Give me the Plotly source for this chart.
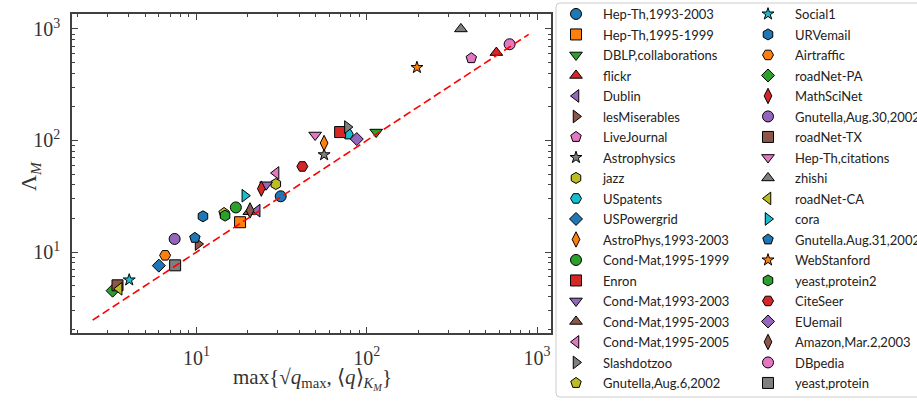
import plotly.graph_objects as go

# Network data sets: predicted scale vs. measured Lambda_M
names = [
    "Hep-Th,1993-2003", "Hep-Th,1995-1999", "DBLP,collaborations", "flickr",
    "Dublin", "lesMiserables", "LiveJournal", "Astrophysics", "jazz",
    "USpatents", "USPowergrid", "AstroPhys,1993-2003", "Cond-Mat,1995-1999",
    "Enron", "Cond-Mat,1993-2003", "Cond-Mat,1995-2003", "Cond-Mat,1995-2005",
    "Slashdotzoo", "Gnutella,Aug.6,2002",
    "Social1", "URVemail", "Airtraffic", "roadNet-PA", "MathSciNet",
    "Gnutella,Aug.30,2002", "roadNet-TX", "Hep-Th,citations", "zhishi",
    "roadNet-CA", "cora", "Gnutella.Aug.31,2002", "WebStanford",
    "yeast,protein2", "CiteSeer", "EUemail", "Amazon,Mar.2,2003", "DBpedia",
    "yeast,protein",
]
x_vals = [
    31.2, 18.0, 113.5, 577, 22.7, 10.2, 411, 56.1, 29.2, 77.3, 6.0, 56.1, 17.0,
    69.7, 25.6, 20.4, 29.3, 76.9, 14.5,
    4.02, 10.9, 6.53, 3.21, 24.0, 7.43, 3.43, 49.7, 357, 3.51, 19.2, 9.77, 197,
    14.7, 41.8, 87.3, 20.6, 690, 7.48,
]
y_vals = [
    31.6, 18.5, 119, 614, 23.5, 11.8, 547, 74.5, 40.7, 114, 7.55, 94.9, 25.1,
    119, 40.1, 23.0, 51.1, 132, 22.4,
    5.62, 20.9, 9.34, 4.5, 37.0, 13.1, 5.03, 112, 1000, 4.68, 32.0, 13.4, 451,
    21.2, 58.5, 103, 23.6, 729, 7.6,
]
# reference line Lambda_M = x
line_x = [2.45, 893]

palette = ["#1f77b4", "#ff7f0e", "#2ca02c", "#d62728", "#9467bd",
           "#8c564b", "#e377c2", "#7f7f7f", "#bcbd22", "#17becf"]
symbols = ["circle", "square", "triangle-down", "triangle-up", "triangle-left",
           "triangle-right", "pentagon", "star", "hexagon", "hexagon2",
           "diamond", "diamond-tall"]
sizes = {"star": 9, "diamond": 10}

fig = go.Figure()
half = (len(names) + 1) // 2
for i, (n, xv, yv) in enumerate(zip(names, x_vals, y_vals)):
    sym = symbols[i % len(symbols)]
    fig.add_trace(go.Scatter(
        x=[xv], y=[yv], mode="markers", name=n, legendgroup=n,
        legend="legend" if i < half else "legend2",
        marker=dict(symbol=sym, color=palette[i % len(palette)],
                    size=sizes.get(sym, 11),
                    line=dict(color="black", width=1)),
    ))

fig.add_trace(go.Scatter(
    x=line_x, y=line_x, mode="lines", showlegend=False,
    line=dict(color="#ff0000", width=1.6, dash="8px,4px"),
))

W, H = 917, 401
L, R, T, B = 72, 366, 14, 68
pw, ph = W - L - R, H - T - B


def px_x(p):
    return (p - L) / pw


def px_y(p):
    return (H - B - p) / ph


minor_vals = [m * 10 ** k for k in range(0, 3) for m in range(2, 10)]
serif = "Liberation Serif"
axis_common = dict(
    type="log", showgrid=False, zeroline=False, showline=True,
    linecolor="#404040", linewidth=1.5, mirror="ticks",
    ticks="inside", ticklen=6, tickwidth=1, tickcolor="#404040",
    tickvals=[10, 100, 1000],
    ticktext=["10<sup>1</sup>", "10<sup>2</sup>", "10<sup>3</sup>"],
    tickfont=dict(family=serif, size=20, color="#333"),
    minor=dict(tickvals=minor_vals, ticks="inside", ticklen=3,
               tickwidth=1, tickcolor="#404040", showgrid=False),
    ticklabelstandoff=6,
)

fig.update_xaxes(range=[0.268, 3.082], **axis_common)
fig.update_yaxes(range=[0.274, 3.134], **axis_common)

title_font = dict(family=serif, size=21, color="#333")
annotations = [
    dict(text="max{√<i>q</i><sub>max</sub>, ⟨<i>q</i>⟩<sub><i>K<sub>M</sub></i></sub>}",
         xref="paper", yref="paper", x=px_x(312), y=px_y(379),
         xanchor="center", yanchor="middle", showarrow=False, font=title_font),
    dict(text="Λ<sub><i>M</i></sub>", textangle=-90,
         xref="paper", yref="paper", x=px_x(30), y=px_y(176),
         xanchor="center", yanchor="middle", showarrow=False,
         font=dict(family=serif, size=22, color="#333")),
]

leg_font = dict(family="Lato", size=13, color="#222")
leg_common = dict(yanchor="top", xanchor="left", font=leg_font, itemwidth=44,
                  bgcolor="rgba(0,0,0,0)", borderwidth=0, tracegroupgap=0.6,
                  maxheight=400)
fig.update_layout(
    width=W, height=H,
    margin=dict(l=L, r=R, t=T, b=B, autoexpand=False),
    paper_bgcolor="white", plot_bgcolor="white",
    legend=dict(x=px_x(549), y=px_y(-1), **leg_common),
    legend2=dict(x=px_x(741), y=px_y(-1), **leg_common),
    annotations=annotations,
    shapes=[dict(
        type="path", xref="paper", yref="paper",
        path=(f"M {px_x(560)},{px_y(3)} L {px_x(930)},{px_y(3)} "
              f"L {px_x(930)},{px_y(397)} L {px_x(560)},{px_y(397)} "
              f"Q {px_x(556)},{px_y(397)} {px_x(556)},{px_y(393)} "
              f"L {px_x(556)},{px_y(7)} Q {px_x(556)},{px_y(3)} {px_x(560)},{px_y(3)} Z"),
        line=dict(color="#cccccc", width=1), fillcolor="rgba(255,255,255,0)",
        layer="below",
    )],
)

fig.write_html("out.html")
